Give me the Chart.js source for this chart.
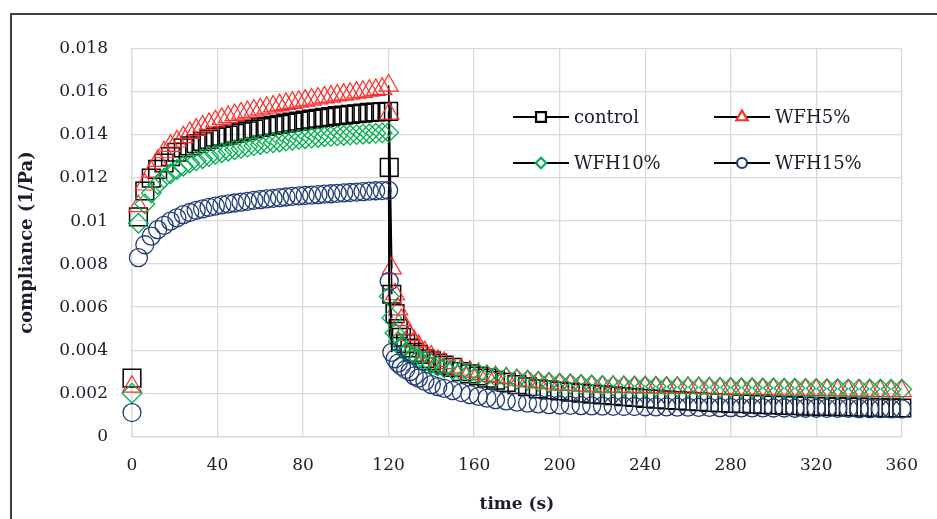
<!DOCTYPE html>
<html>
<head>
<meta charset="utf-8">
<script src="https://cdn.jsdelivr.net/npm/chart.js@4.4.1/dist/chart.umd.min.js"></script>
<style>
  html, body { margin: 0; padding: 0; background: #fff; }
  #wrap { position: relative; width: 937px; height: 519px; overflow: hidden; }
  #frame { position: absolute; left: 10px; top: 13px; width: 960px; height: 540px;
           border: 2px solid #404040; box-sizing: border-box; pointer-events: none; }
  canvas { position: absolute; left: 0; top: 0; }
</style>
</head>
<body>
<div id="wrap">
  <canvas id="chart" width="937" height="519"></canvas>
  <div id="frame"></div>
</div>
<script>
// Sampling times (s): creep 0-120 s, recovery 120-360 s
const time = [
  0, 3, 6, 9, 12, 15, 18, 21, 24, 27, 30, 33, 36, 39, 42, 45, 48, 51, 54, 57, 60,
  63, 66, 69, 72, 75, 78, 81, 84, 87, 90, 93, 96, 99, 102, 105, 108, 111, 114, 117, 120,
  120.3, 121.5, 123, 124.5, 126, 128, 130, 132, 134, 137, 140, 143, 146, 150, 154, 158,
  162, 166, 170, 175, 180, 185, 190, 195, 200, 205, 210, 215, 220, 225, 230, 235, 240,
  245, 250, 255, 260, 265, 270, 275, 280, 285, 290, 295, 300, 305, 310, 315, 320, 325,
  330, 335, 340, 345, 350, 355, 360
];

// Compliance (1/Pa)
const control = [
  0.0027, 0.0102, 0.0114, 0.0120, 0.0124, 0.0127, 0.0130, 0.0132, 0.0134, 0.0135, 0.0136,
  0.0137, 0.0138, 0.0139, 0.01395, 0.0140, 0.01408, 0.01415, 0.0142, 0.01428, 0.01435,
  0.0144, 0.01445, 0.0145, 0.01455, 0.0146, 0.01465, 0.0147, 0.01474, 0.01478, 0.01482,
  0.01486, 0.0149, 0.01493, 0.01496, 0.01499, 0.01502, 0.01505, 0.01507, 0.01509, 0.0151,
  0.0125, 0.0066, 0.0057, 0.0050, 0.0046, 0.0043, 0.0041, 0.0039, 0.0038, 0.0036, 0.0035,
  0.0034, 0.0033, 0.0032, 0.0030, 0.0029, 0.0028, 0.0027, 0.0026, 0.0025, 0.0024, 0.0023,
  0.0022, 0.00215, 0.0021, 0.00205, 0.0020, 0.00196, 0.00192, 0.00188, 0.00184, 0.0018,
  0.00176, 0.00172, 0.00169, 0.00166, 0.00163, 0.0016, 0.00157, 0.00155, 0.00153, 0.00151,
  0.00149, 0.00147, 0.00145, 0.00143, 0.00142, 0.0014, 0.00139, 0.00138, 0.00137, 0.00136,
  0.00135, 0.00134, 0.00133, 0.00132, 0.00131
];

const wfh5 = [
  0.0023, 0.0107, 0.0117, 0.0123, 0.0128, 0.0132, 0.0135, 0.0137, 0.0139, 0.0141, 0.01425,
  0.0144, 0.01452, 0.01464, 0.01475, 0.01484, 0.01493, 0.0150, 0.01507, 0.01514, 0.0152,
  0.01527, 0.01533, 0.01539, 0.01545, 0.0155, 0.01555, 0.0156, 0.01565, 0.0157, 0.01575,
  0.01579, 0.01584, 0.01588, 0.01592, 0.01597, 0.01601, 0.01606, 0.0161, 0.01615, 0.0163,
  0.0150, 0.0078, 0.0066, 0.0059, 0.0054, 0.0050, 0.0047, 0.0044, 0.0042, 0.0039, 0.0037,
  0.0035, 0.0034, 0.0032, 0.0031, 0.0030, 0.0029, 0.0028, 0.00275, 0.0027, 0.0026, 0.00255,
  0.0025, 0.00245, 0.0024, 0.00238, 0.00235, 0.00232, 0.0023, 0.0023, 0.00229, 0.00228,
  0.00228, 0.00227, 0.00226, 0.00225, 0.00225, 0.00224, 0.00223, 0.00222, 0.00221, 0.0022,
  0.0022, 0.00219, 0.00218, 0.00217, 0.00216, 0.00216, 0.00215, 0.00214, 0.00213, 0.00212,
  0.00212, 0.00211, 0.0021, 0.0021, 0.0021
];

const wfh10 = [
  0.0020, 0.0099, 0.0108, 0.0113, 0.0117, 0.0120, 0.0122, 0.0124, 0.01255, 0.0127, 0.0128,
  0.0129, 0.0130, 0.0131, 0.01318, 0.01325, 0.01332, 0.01338, 0.01344, 0.0135, 0.01356,
  0.0136, 0.01364, 0.01368, 0.01372, 0.01376, 0.0138, 0.01383, 0.01386, 0.01389, 0.01392,
  0.01394, 0.01396, 0.01398, 0.0140, 0.01402, 0.01404, 0.01406, 0.01408, 0.0141, 0.01412,
  0.0065, 0.0055, 0.0048, 0.0044, 0.0041, 0.0039, 0.0038, 0.0037, 0.0036, 0.00348, 0.00336,
  0.00326, 0.00318, 0.0031, 0.00302, 0.00295, 0.00289, 0.00283, 0.00277, 0.00271, 0.00265,
  0.0026, 0.00255, 0.0025, 0.00246, 0.00243, 0.0024, 0.00238, 0.00236, 0.00234, 0.00233,
  0.00232, 0.00232, 0.00231, 0.0023, 0.00229, 0.00228, 0.00228, 0.00227, 0.00226, 0.00226,
  0.00225, 0.00225, 0.00224, 0.00224, 0.00223, 0.00223, 0.00222, 0.00222, 0.00221, 0.00221,
  0.0022, 0.0022, 0.00219, 0.00219, 0.00218, 0.00218
];

const wfh15 = [
  0.0011, 0.0083, 0.0089, 0.0093, 0.0096, 0.0098, 0.0100, 0.01015, 0.0103, 0.0104, 0.0105,
  0.01057, 0.01064, 0.0107, 0.01075, 0.0108, 0.01084, 0.01088, 0.01092, 0.01096, 0.0110,
  0.01103, 0.01106, 0.01109, 0.01112, 0.01115, 0.01117, 0.01119, 0.01121, 0.01123, 0.01125,
  0.01127, 0.01129, 0.01131, 0.01133, 0.01135, 0.01137, 0.01139, 0.01141, 0.01142, 0.01143,
  0.0072, 0.0039, 0.0036, 0.0034, 0.00325, 0.0031, 0.0030, 0.0028, 0.0027, 0.00255, 0.0024,
  0.0023, 0.00222, 0.00212, 0.00203, 0.00193, 0.00185, 0.00177, 0.0017, 0.00164, 0.00158,
  0.00154, 0.0015, 0.00147, 0.00145, 0.00143, 0.00142, 0.00141, 0.0014, 0.00139, 0.00138,
  0.00138, 0.00137, 0.00136, 0.00136, 0.00135, 0.00135, 0.00134, 0.00134, 0.00133, 0.00133,
  0.00132, 0.00132, 0.00132, 0.00131, 0.00131, 0.0013, 0.0013, 0.0013, 0.00129, 0.00129,
  0.00129, 0.00128, 0.00128, 0.00128, 0.00127, 0.00127
];

const seriesNames = ['control', 'WFH5%', 'WFH10%', 'WFH15%'];
const xTickLabels = ['0', '40', '80', '120', '160', '200', '240', '280', '320', '360'];
const yTickLabels = ['0', '0.002', '0.004', '0.006', '0.008', '0.01', '0.012', '0.014', '0.016', '0.018'];

// Time (s) at which the load is removed; the connecting line marks this step
const loadRemovedAt = 120;

const toPoints = vals => vals.map((v, i) => ({ x: time[i], y: v }));

const styles = [
  { color: '#000000', shape: 'rect',     r: 12.5, key: 7,   bw: 1.5 },
  { color: '#ff2a2a', shape: 'triangle', r: 11,   key: 6.5, bw: 1.2 },
  { color: '#00b050', shape: 'rectRot',  r: 9.8,  key: 5.2, bw: 1.3 },
  { color: '#203d78', shape: 'circle',   r: 9,    key: 5,   bw: 1.3 }
];
const seriesValues = [control, wfh5, wfh10, wfh15];

const stepSegment = c =>
  (c.p0.parsed.x >= loadRemovedAt && c.p0.parsed.x < loadRemovedAt + 1) ? '#000' : 'rgba(0,0,0,0)';

const datasets = seriesValues.map((vals, i) => ({
  label: seriesNames[i],
  data: toPoints(vals),
  showLine: true,
  borderColor: '#000',
  borderWidth: 1.6,
  segment: { borderColor: stepSegment },
  tension: 0,
  pointStyle: styles[i].shape,
  pointRadius: styles[i].r,
  pointBorderColor: styles[i].color,
  pointBackgroundColor: 'rgba(255,255,255,0)',
  pointBorderWidth: styles[i].bw,
  clip: false,
  order: seriesValues.length - i
}));

const serifFont = "'DejaVu Serif', 'Liberation Serif', serif";
const textColor = '#1c1c2c';

// Two-column key drawn inside the plot area: short black line with the series marker
const seriesKey = {
  id: 'seriesKey',
  afterDraw(chart) {
    const { ctx, chartArea } = chart;
    const colX = [chartArea.left + 381, chartArea.left + 582];
    const rowY = [chartArea.top + 68, chartArea.top + 114];
    ctx.save();
    ctx.font = '18px ' + serifFont;
    ctx.textBaseline = 'middle';
    ctx.textAlign = 'left';
    seriesNames.forEach((name, i) => {
      const x = colX[i % 2];
      const y = rowY[Math.floor(i / 2)];
      ctx.strokeStyle = '#000';
      ctx.lineWidth = 2.2;
      ctx.beginPath();
      ctx.moveTo(x, y);
      ctx.lineTo(x + 56, y);
      ctx.stroke();
      ctx.strokeStyle = styles[i].color;
      ctx.fillStyle = '#ffffff';
      Chart.helpers.drawPoint(ctx, {
        pointStyle: styles[i].shape, radius: styles[i].key, rotation: 0, borderWidth: 1.6
      }, x + 28, y);
      ctx.fillStyle = textColor;
      ctx.fillText(name, x + 61, y + 1);
    });
    ctx.restore();
  }
};

new Chart(document.getElementById('chart'), {
  type: 'scatter',
  data: { datasets },
  options: {
    responsive: false,
    animation: false,
    devicePixelRatio: 1,
    layout: { padding: { top: 49, right: 22, left: 0, bottom: 0 } },
    plugins: { legend: { display: false }, tooltip: { enabled: false } },
    scales: {
      x: {
        type: 'linear',
        min: 0, max: 360,
        ticks: {
          stepSize: 40,
          padding: 19,
          color: textColor,
          font: { family: serifFont, size: 17 },
          callback: (v, i) => xTickLabels[i]
        },
        grid: { color: '#d9d9d9', lineWidth: 1.3, drawTicks: false },
        border: { color: '#d9d9d9', width: 1.3 },
        title: {
          display: true, text: 'time (s)', color: textColor,
          font: { family: serifFont, size: 17, weight: 'bold' },
          padding: { top: 0, bottom: 4 }
        }
      },
      y: {
        type: 'linear',
        min: 0, max: 0.018,
        afterFit: s => { s.width = 132; },
        ticks: {
          stepSize: 0.002,
          padding: 24,
          color: textColor,
          font: { family: serifFont, size: 17 },
          callback: (v, i) => yTickLabels[i]
        },
        grid: { color: '#d9d9d9', lineWidth: 1.3, drawTicks: false },
        border: { color: '#d9d9d9', width: 1.3 },
        title: {
          display: true, text: 'compliance (1/Pa)', color: textColor,
          font: { family: serifFont, size: 18, weight: 'bold' },
          padding: { top: 17, bottom: 0 }
        }
      }
    }
  },
  plugins: [seriesKey]
});
</script>
</body>
</html>
